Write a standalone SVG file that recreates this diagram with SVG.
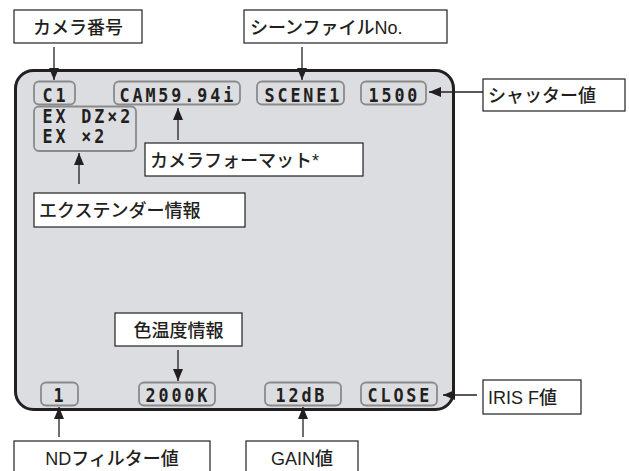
<svg xmlns="http://www.w3.org/2000/svg" width="629" height="471" viewBox="0 0 629 471">
<defs>
<marker id="ah" viewBox="0 0 12 10" refX="12" refY="5" markerWidth="12" markerHeight="10" markerUnits="userSpaceOnUse" orient="auto">
<path d="M0,0 L12,5 L0,10 Z" fill="#231f20"/>
</marker>
<style>
.lbl{fill:#fff;stroke:#231f20;stroke-width:1.2}
.lt{font-family:"Liberation Sans","Noto Sans CJK JP",sans-serif;font-size:18px;font-weight:500;fill:#231f20}
.disp{fill:#dcdde0;stroke:#8a8a8a;stroke-width:1.8}
.dt{font-family:"DejaVu Sans Mono","Liberation Mono",monospace;font-weight:bold;font-size:19px;letter-spacing:3.3px;fill:#231f20}
.con{stroke:#231f20;stroke-width:1.3;fill:none;marker-end:url(#ah)}
</style>
</defs>
<rect width="629" height="471" fill="#fff"/>
<g id="screen">
<rect x="15.5" y="70.5" width="438" height="339" rx="18" fill="#dcdde0" stroke="#231f20" stroke-width="3"/>
</g>
<g id="d-c1"><rect class="disp" x="34" y="81.5" width="41" height="23" rx="5"/><text class="dt" transform="translate(42.5,102) scale(0.88,1)">C1</text></g>
<g id="d-cam"><rect class="disp" x="114" y="81.5" width="126" height="23" rx="5"/><text class="dt" transform="translate(119.5,102) scale(0.88,1)">CAM59.94i</text></g>
<g id="d-scene"><rect class="disp" x="257" y="81.5" width="87" height="23" rx="5"/><text class="dt" transform="translate(264.5,102) scale(0.88,1)">SCENE1</text></g>
<g id="d-shutter"><rect class="disp" x="361" y="81.5" width="65" height="23" rx="5"/><text class="dt" transform="translate(368.5,102) scale(0.88,1)">1500</text></g>
<g id="d-ex"><rect class="disp" x="34" y="106.5" width="102" height="44.5" rx="5"/><text class="dt" transform="translate(42.5,123) scale(0.88,1)">EX DZ×2</text><text class="dt" transform="translate(42.5,143) scale(0.88,1)">EX ×2</text></g>
<g id="d-nd"><rect class="disp" x="41" y="382.5" width="37" height="23" rx="5"/><text class="dt" transform="translate(53.5,402) scale(0.88,1)">1</text></g>
<g id="d-temp"><rect class="disp" x="139" y="382.5" width="76" height="23" rx="5"/><text class="dt" transform="translate(145.5,402) scale(0.88,1)">2000K</text></g>
<g id="d-gain"><rect class="disp" x="265" y="382.5" width="76" height="23" rx="5"/><text class="dt" transform="translate(275.5,402) scale(0.88,1)">12dB</text></g>
<g id="d-iris"><rect class="disp" x="361" y="382.5" width="76" height="23" rx="5"/><text class="dt" transform="translate(367.5,402) scale(0.88,1)">CLOSE</text></g>

<g id="l-camno"><rect class="lbl" x="14" y="10" width="128" height="33"/><text class="lt" x="78" y="33.5" text-anchor="middle">カメラ番号</text></g>
<g id="l-scene"><rect class="lbl" x="244" y="10" width="203" height="33"/><text class="lt" x="250" y="33.5">シーンファイルNo.</text></g>
<g id="l-shutter"><rect class="lbl" x="483" y="79" width="142" height="32"/><text class="lt" x="488" y="102">シャッター値</text></g>
<g id="l-format"><rect class="lbl" x="145" y="143" width="218" height="33"/><text class="lt" x="150" y="166.5">カメラフォーマット*</text></g>
<g id="l-ext"><rect class="lbl" x="34" y="193" width="211" height="34"/><text class="lt" x="39" y="216.5">エクステンダー情報</text></g>
<g id="l-temp"><rect class="lbl" x="115" y="313" width="127" height="33"/><text class="lt" x="178.5" y="336.5" text-anchor="middle">色温度情報</text></g>
<g id="l-nd"><rect class="lbl" x="14" y="441" width="196" height="40"/><text class="lt" x="112" y="465" text-anchor="middle">NDフィルター値</text></g>
<g id="l-gain"><rect class="lbl" x="246" y="441" width="112" height="40"/><text class="lt" x="302" y="465" text-anchor="middle">GAIN値</text></g>
<g id="l-iris"><rect class="lbl" x="483" y="380" width="98" height="34"/><text class="lt" x="488" y="403.5">IRIS F値</text></g>

<g id="connectors">
<line class="con" x1="54" y1="47" x2="54" y2="80"/>
<line class="con" x1="302" y1="47" x2="302" y2="80"/>
<line class="con" x1="483" y1="92" x2="429" y2="92"/>
<line class="con" x1="178" y1="140" x2="178" y2="108"/>
<line class="con" x1="79" y1="184" x2="79" y2="153"/>
<line class="con" x1="178" y1="350" x2="178" y2="381"/>
<line class="con" x1="59" y1="437" x2="59" y2="407"/>
<line class="con" x1="303" y1="437" x2="303" y2="407"/>
<line class="con" x1="477" y1="395" x2="443" y2="395"/>
</g>
</svg>
